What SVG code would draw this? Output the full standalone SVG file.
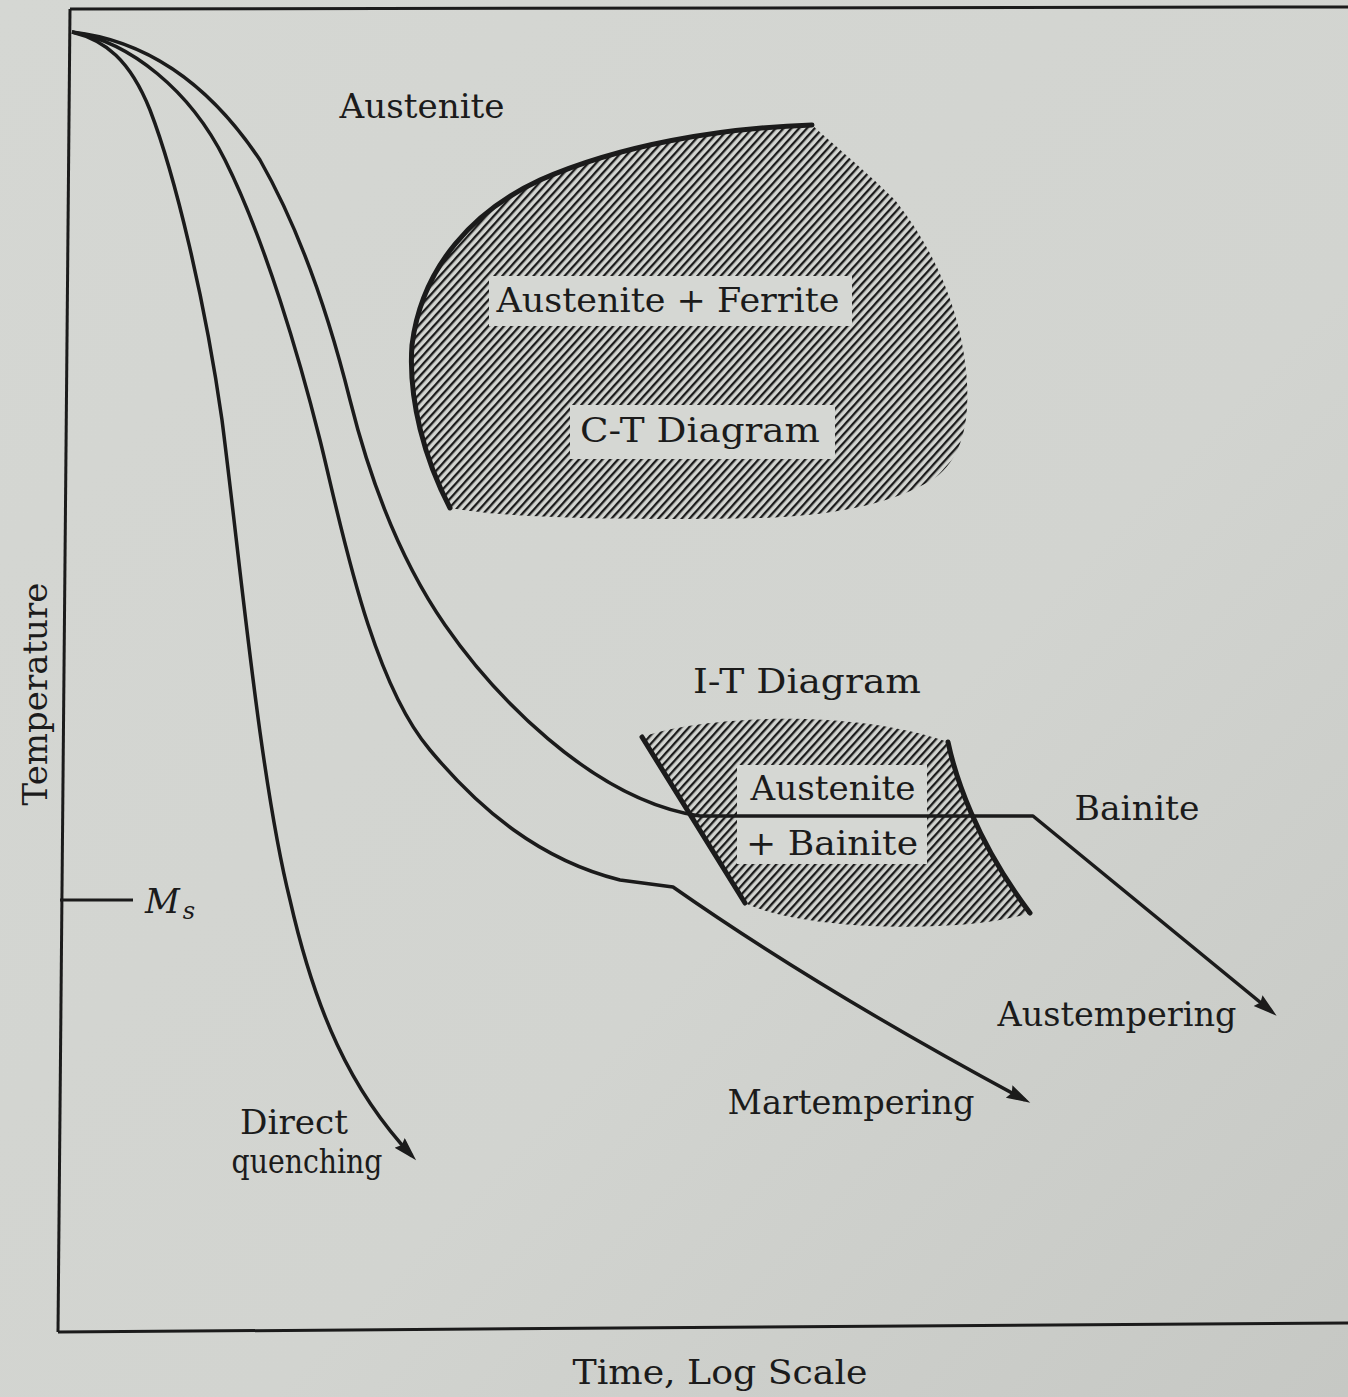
<svg xmlns="http://www.w3.org/2000/svg" width="1348" height="1397" viewBox="0 0 1348 1397">
  <style>
    .ink { stroke: #1b1b1b; fill: none; }
    .frame { stroke-width: 3; }
    .curve { stroke-width: 3.5; stroke-linejoin: round; stroke-linecap: butt; }
    .bold { stroke-width: 5; stroke-linecap: round; }
    .lbl { font-family: "DejaVu Serif", "Liberation Serif", serif; font-size: 34px; fill: #1b1b1b; }
    .box { fill: #d5d7d3; stroke: none; }
  </style>
  <defs>
    <linearGradient id="page" x1="0" y1="0" x2="1" y2="1">
      <stop offset="0" stop-color="#d5d7d3"/>
      <stop offset="0.6" stop-color="#d2d4d0"/>
      <stop offset="1" stop-color="#c6c8c4"/>
    </linearGradient>
    <pattern id="hatch" patternUnits="userSpaceOnUse" width="5.8" height="20" patternTransform="rotate(42)">
      <rect x="0" y="0" width="2.3" height="20" fill="#1b1b1b"/>
    </pattern>
    <marker id="arrow" markerUnits="userSpaceOnUse" markerWidth="26" markerHeight="16" refX="18" refY="7" orient="auto">
      <path d="M0,0 L24,7 L0,14 L3,7 Z" fill="#1b1b1b"/>
    </marker>
  </defs>

  <rect x="0" y="0" width="1348" height="1397" fill="url(#page)"/>

  <g id="frame" class="ink frame">
    <path d="M70,9 L1348,7"/>
    <path d="M70,9 L58,1332"/>
    <path d="M58,1332 L1348,1323"/>
    <path d="M60,900 L133,900"/>
  </g>

  <g id="axis-labels">
    <text class="lbl" transform="translate(47,694) rotate(-90)" text-anchor="middle">Temperature</text>
    <text class="lbl" x="720" y="1384" text-anchor="middle" textLength="295" lengthAdjust="spacingAndGlyphs">Time,  Log  Scale</text>
    <text class="lbl" x="145" y="913" font-style="italic">M<tspan font-size="24" dy="6" dx="3">s</tspan></text>
  </g>

  <g id="ct-diagram">
    <path d="M450,508 C425,460 408,400 412,345 C422,265 475,210 540,180 C620,145 720,128 812,125 C840,150 870,175 895,200 C935,250 960,310 966,370 C972,430 958,462 932,480 C890,505 830,516 760,518 C650,520 520,520 450,508 Z" fill="url(#hatch)"/>
    <rect class="box" x="489" y="276" width="363" height="50"/>
    <rect class="box" x="570" y="405" width="265" height="54"/>
    <path class="ink bold" d="M450,508 C425,460 408,400 412,345 C422,265 475,210 540,180 C620,145 720,128 812,125"/>
    <text class="lbl" x="668" y="312" text-anchor="middle" textLength="343" lengthAdjust="spacingAndGlyphs">Austenite + Ferrite</text>
    <text class="lbl" x="700" y="442" text-anchor="middle" textLength="240" lengthAdjust="spacingAndGlyphs">C-T  Diagram</text>
  </g>

  <g id="it-diagram">
    <path d="M642,737 C700,716 850,708 948,742 C955,775 975,840 1030,913 C960,935 800,930 745,903 Z" fill="url(#hatch)"/>
    <rect class="box" x="737" y="765" width="190" height="99"/>
    <path class="ink bold" d="M642,737 L745,903"/>
    <path class="ink bold" d="M948,742 C955,775 975,840 1030,913"/>
    <text class="lbl" x="807" y="693" text-anchor="middle" textLength="228" lengthAdjust="spacingAndGlyphs">I-T  Diagram</text>
    <text class="lbl" x="833" y="800" text-anchor="middle" textLength="165" lengthAdjust="spacingAndGlyphs">Austenite</text>
    <text class="lbl" x="832" y="855" text-anchor="middle" textLength="172" lengthAdjust="spacingAndGlyphs">+ Bainite</text>
  </g>

  <g id="connectors" class="ink curve">
    <path id="direct-quenching" d="M72,32 C105,40 130,60 150,110 C175,175 205,300 222,420 C240,560 260,780 290,900 C315,1010 350,1090 412,1156" marker-end="url(#arrow)"/>
    <path id="martempering" d="M72,32 C130,42 190,90 225,160 C265,240 300,360 320,440 C340,520 370,680 430,750 C480,810 540,860 620,880 L673,887 Q820,990 1025,1100" marker-end="url(#arrow)"/>
    <path id="austempering" d="M72,32 C160,42 220,100 260,160 C300,230 330,320 350,400 C370,480 400,560 445,625 C490,690 590,800 700,816 L1033,816 L1272,1012" marker-end="url(#arrow)"/>
  </g>

  <g id="curve-labels">
    <text class="lbl" x="422" y="118" text-anchor="middle" textLength="165" lengthAdjust="spacingAndGlyphs">Austenite</text>
    <text class="lbl" x="1137" y="820" text-anchor="middle" textLength="125" lengthAdjust="spacingAndGlyphs">Bainite</text>
    <text class="lbl" x="1117" y="1026" text-anchor="middle" textLength="239" lengthAdjust="spacingAndGlyphs">Austempering</text>
    <text class="lbl" x="851" y="1114" text-anchor="middle" textLength="247" lengthAdjust="spacingAndGlyphs">Martempering</text>
    <text class="lbl" x="294" y="1134" text-anchor="middle" textLength="108" lengthAdjust="spacingAndGlyphs">Direct</text>
    <text class="lbl" x="307" y="1173" text-anchor="middle" font-size="32" textLength="151" lengthAdjust="spacingAndGlyphs">quenching</text>
  </g>
</svg>
